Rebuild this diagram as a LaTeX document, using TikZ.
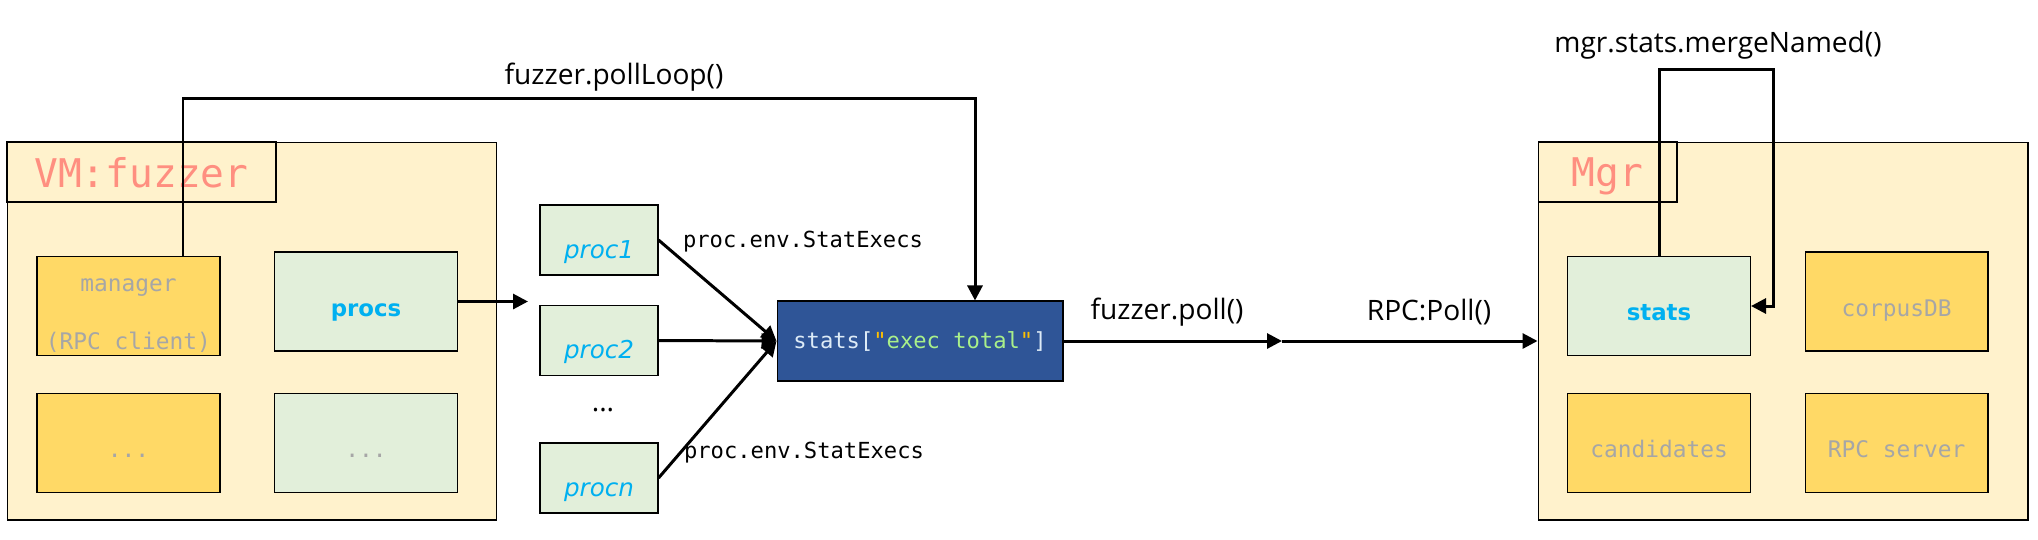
\documentclass[tikz,border=0pt]{standalone}
\usepackage{fontspec}
\setmainfont{Open Sans}
\newfontfamily\codefont{DejaVu Sans Mono}
\newfontfamily\boxfont{DejaVu Sans}
\usetikzlibrary{arrows.meta}

\definecolor{boxcream}{HTML}{FFF2CC}
\definecolor{boxgold}{HTML}{FFD966}
\definecolor{boxgreen}{HTML}{E2EFDA}
\definecolor{statblue}{HTML}{2F5597}
\definecolor{titlered}{HTML}{FF8F80}
\definecolor{dimgray}{HTML}{A6A6A6}
\definecolor{procblue}{HTML}{00B0F0}
\definecolor{quoteyel}{HTML}{FFC000}
\definecolor{strgreen}{HTML}{A9F08A}
\definecolor{keywhite}{HTML}{DDEBF7}

\begin{document}
\begin{tikzpicture}[x=0.02cm, y=-0.02cm,
    region/.style={draw, line width=0.6pt, fill=boxcream, inner sep=0pt,
      minimum width=9.8cm, minimum height=7.56cm},
    tag/.style={draw, line width=0.6pt, fill=boxcream, inner sep=0pt,
      minimum height=1.2cm, text depth=0pt, text=titlered,
      font=\codefont\fontsize{22.5}{26}\selectfont},
    gold/.style={draw, line width=0.6pt, fill=boxgold, inner sep=0pt,
      minimum width=3.66cm, minimum height=1.98cm, text height=17pt, text depth=0pt},
    leaf/.style={gold, fill=boxgreen},
    proc/.style={leaf, minimum width=2.36cm, minimum height=1.4cm, text height=21pt,
      text=procblue, font=\boxfont\itshape\fontsize{14}{16}\selectfont},
    dim/.style={text=dimgray, font=\codefont\fontsize{13}{15}\selectfont},
    strong/.style={text=procblue, font=\boxfont\bfseries\fontsize{13}{15}\selectfont},
    code/.style={font=\codefont\fontsize{12.6}{15}\selectfont},
    call/.style={font=\fontsize{16}{19}\selectfont},
    flow/.style={line width=1.7pt, -{Triangle[length=0.3cm,width=0.3cm]}}
  ]
  \useasboundingbox (0,0) rectangle (2038,539);

  % 1. VM side (fuzzer)
  \node[region] (vm) at (252,331) {};
  \node[tag, minimum width=5.38cm] (vmtag) at (141.5,172) {VM:fuzzer};
  \node[gold] (manager) at (128.5,306) {};
  \node[dim] (managername) at (128.5,288) {manager};
  \node[dim] (managernote) at (128.5,342) {(RPC client)};
  \node[leaf, strong] (procs) at (366,301.5) {procs};
  \node[gold, dim] (vmmore) at (128.5,443) {...};
  \node[leaf, dim] (procsmore) at (366,443) {...};

  % 2. the procs and the shared counter
  \node[proc] (proc1) at (599,240) {proc1};
  \node[proc] (proc2) at (599,340.5) {proc2};
  \node[call] (procdots) at (603,410) {...};
  \node[proc] (procn) at (599,478) {procn};
  \node[draw, line width=0.6pt, fill=statblue, inner sep=0pt,
        minimum width=5.72cm, minimum height=1.6cm, code] (stats) at (920,341)
        {\color{keywhite}stats[\color{quoteyel}"\color{strgreen}exec total\color{quoteyel}"\color{keywhite}]};

  % 3. Manager side
  \node[region] (mgr) at (1783,331) {};
  \node[tag, minimum width=2.78cm] (mgrtag) at (1607.5,172) {Mgr};
  \node[leaf, strong] (mstats) at (1659,306) {stats};
  \node[gold, dim] (corpus) at (1896.5,301.5) {corpusDB};
  \node[gold, dim] (cands) at (1659,443) {candidates};
  \node[gold, dim] (rpcsrv) at (1896.5,443) {RPC server};

  % 4. connectors
  \coordinate (loopL) at (183,98);
  \coordinate (loopR) at (975,98);
  \draw[flow] (manager.north -| loopL) -- (loopL) -- (loopR) -- (stats.north -| loopR);
  \node[call] (looplabel) at (614,77) {fuzzer.pollLoop()};

  \coordinate (procsend) at (528,301.5);
  \draw[flow] (procs.east) -- (procsend);

  \draw[flow] (proc1.east) -- (stats.west);
  \draw[flow] (proc2.east) -- (stats.west);
  \draw[flow] (procn.east) -- (stats.west);
  \node[code] (execs1) at (803,242) {proc.env.StatExecs};
  \node[code] (execsn) at (804,453) {proc.env.StatExecs};

  \coordinate (relay) at (1282,341);
  \draw[flow] (stats.east) -- (relay);
  \draw[flow] (relay) -- (relay -| mgr.west);
  \node[call] (polllabel) at (1167,312) {fuzzer.poll()};
  \node[call] (rpclabel) at (1429,312) {RPC:Poll()};

  % self loop on the manager stats
  \coordinate (merge) at (1773,69);
  \draw[flow] (mstats.north) |- (merge) |- (mstats.east);
  \node[call] (mergelabel) at (1718,45) {mgr.stats.mergeNamed()};
\end{tikzpicture}
\end{document}
